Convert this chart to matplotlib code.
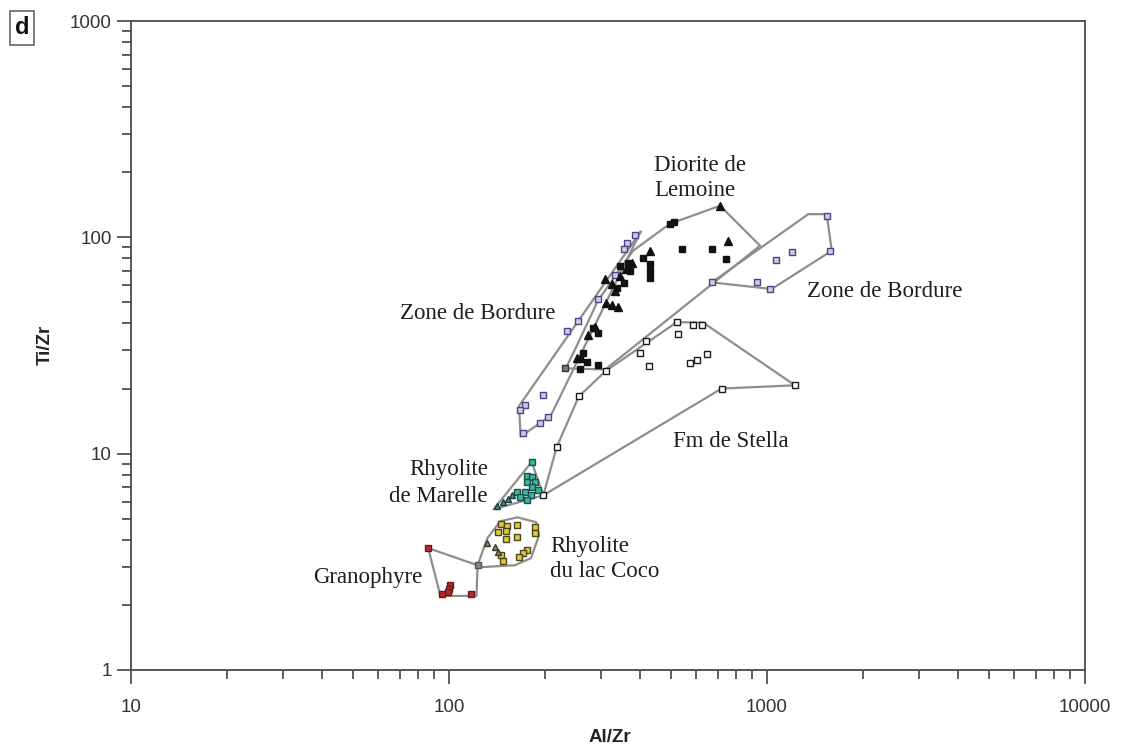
import matplotlib
matplotlib.use('Agg')
import numpy as np
from matplotlib import pyplot as plt
from matplotlib.ticker import FuncFormatter, NullFormatter, LogLocator

# --- Zone de Bordure (ouest), carres violets ---
bord_w_x = [385, 363, 355, 333, 294, 255, 235, 198, 173, 167, 205, 193, 171]
bord_w_y = [102, 94, 88, 67, 52, 41, 37, 18.6, 16.7, 16.0, 14.7, 13.8, 12.4]
bord_w_hull_x = [400, 166, 168, 209]
bord_w_hull_y = [106, 16.6, 12.0, 15.0]

# --- Zone de Bordure (est) ---
bord_e_x = [1541, 1580, 1196, 1067, 928, 1022, 670]
bord_e_y = [126, 86.7, 85.2, 78.8, 61.9, 57.7, 61.9]
bord_e_hull_x = [670, 1349, 1541, 1598, 1035]
bord_e_hull_y = [61.9, 128, 128, 86.7, 57.7]

# --- Diorite de Lemoine ---
dio_sq_x = [495, 510, 539, 670, 743, 429, 429, 429, 407, 371, 338, 355, 345, 366,
            284, 294, 264, 258, 272, 294, 258]
dio_sq_y = [115, 118, 88, 88, 79, 75.5, 70, 65, 80.5, 70, 58.5, 61.7, 74, 76,
            37.9, 36.3, 29.3, 27.5, 26.4, 25.8, 24.5]
dio_tri_x = [712, 754, 429, 310, 326, 345, 360, 376, 333, 312, 326, 340, 274, 253, 288]
dio_tri_y = [140, 96.5, 86.7, 64.4, 61.1, 66.5, 71.6, 76.3, 56.7, 49.9, 48.9, 47.8,
             35.2, 27.8, 38.7]
dio_grey_x = [232]
dio_grey_y = [25.0]
dio_hull_x = [495, 712, 951, 310, 233, 255, 294, 379]
dio_hull_y = [115.5, 140, 91.5, 24.5, 24.8, 32.6, 51, 86.7]

# --- Fm de Stella, carres ouverts ---
stella_x = [520, 526, 587, 623, 1224, 720, 573, 601, 646, 416, 399, 426, 312, 256, 218, 198]
stella_y = [40.5, 35.8, 39.5, 39.5, 20.7, 20.0, 26.2, 27.2, 28.9, 33, 29.3, 25.3,
            24.2, 18.4, 10.7, 6.42]
stella_hull_x = [198, 218, 256, 312, 520, 629, 1224, 720]
stella_hull_y = [6.42, 10.7, 18.4, 24.2, 40.5, 40.4, 20.7, 20.0]

# --- Rhyolite de Marelle ---
mar_sq_x = [182, 176, 182, 186, 176, 182, 190, 164, 173, 167, 181, 176]
mar_sq_y = [9.15, 7.86, 7.77, 7.37, 7.37, 6.99, 6.77, 6.63, 6.63, 6.28, 6.42, 6.09]
mar_tri_x = [148, 153, 158, 142]
mar_tri_y = [5.96, 6.15, 6.42, 5.71]
mar_hull_x = [182, 198, 138]
mar_hull_y = [9.15, 6.42, 5.53]

# --- Rhyolite du lac Coco ---
coco_sq_x = [146, 152, 164, 143, 151, 151, 164, 186, 186, 176, 171, 166, 146, 148]
coco_sq_y = [4.72, 4.62, 4.67, 4.33, 4.38, 4.02, 4.11, 4.57, 4.29, 3.58, 3.47, 3.32,
             3.39, 3.18]
coco_tri_x = [132, 140, 143]
coco_tri_y = [3.86, 3.70, 3.50]
coco_hull_x = [123, 132, 145, 164, 188, 192, 181, 161, 128]
coco_hull_y = [3.05, 4.07, 4.87, 5.08, 4.82, 4.20, 3.29, 3.05, 2.99]

# --- Granophyre ---
gran_x = [86, 101, 100, 99, 95, 117]
gran_y = [3.66, 2.47, 2.36, 2.29, 2.24, 2.24]
gran_grey_x = [123]
gran_grey_y = [3.05]
gran_hull_x = [86, 123, 122, 94]
gran_hull_y = [3.66, 3.05, 2.20, 2.20]

HULL_COLOR = '#8e8e8e'
SERIF = ['Liberation Serif', 'DejaVu Serif']
SANS = ['Liberation Sans', 'DejaVu Sans']


def draw_hull(ax, hx, hy):
    hx = list(hx) + [hx[0]]
    hy = list(hy) + [hy[0]]
    ax.plot(hx, hy, color=HULL_COLOR, lw=1.6, zorder=2, solid_joinstyle='round')


def pts(ax, x, y, marker, face, edge, ms=5, mew=1.0, z=3):
    ax.plot(x, y, marker, ls='none', ms=ms, mfc=face, mec=edge, mew=mew, zorder=z)


fig = plt.figure(figsize=(11.25, 7.52), dpi=100)
ax = fig.add_axes([131 / 1125, 82 / 752, 954 / 1125, 649 / 752])
ax.set_xscale('log')
ax.set_yscale('log')
ax.set_xlim(10, 10000)
ax.set_ylim(1, 1000)

# enveloppes
for hx, hy in [(bord_w_hull_x, bord_w_hull_y), (bord_e_hull_x, bord_e_hull_y),
               (dio_hull_x, dio_hull_y), (stella_hull_x, stella_hull_y),
               (mar_hull_x, mar_hull_y), (coco_hull_x, coco_hull_y),
               (gran_hull_x, gran_hull_y)]:
    draw_hull(ax, hx, hy)

# echantillons
pts(ax, bord_w_x, bord_w_y, 's', '#cfc9e6', '#4a4384')
pts(ax, bord_e_x, bord_e_y, 's', '#cfc9e6', '#4a4384')
pts(ax, stella_x, stella_y, 's', 'white', '#1a1a1a')
pts(ax, dio_sq_x, dio_sq_y, 's', '#111111', '#111111')
pts(ax, dio_tri_x, dio_tri_y, '^', '#111111', '#111111', ms=5.5)
pts(ax, dio_grey_x, dio_grey_y, 's', '#7a7a7a', '#333333')
pts(ax, mar_sq_x, mar_sq_y, 's', '#3cb4a0', '#1d4f48')
pts(ax, mar_tri_x, mar_tri_y, '^', '#4a8a80', '#1d3f3a', ms=4.5)
pts(ax, coco_sq_x, coco_sq_y, 's', '#dccb3c', '#4d4520')
pts(ax, coco_tri_x, coco_tri_y, '^', '#8a8a5a', '#3a3a2a', ms=4.5)
pts(ax, gran_x, gran_y, 's', '#b82a2a', '#6a1a1a')
pts(ax, gran_grey_x, gran_grey_y, 's', '#8a8a8a', '#555555')

# etiquettes des domaines
lab = dict(fontsize=16.5, family=SERIF, color='#1e1e1e', va='baseline')
ax.text(441, 202.9, 'Diorite de', ha='left', **lab)
ax.text(441, 155.6, 'Lemoine', ha='left', **lab)
ax.text(70.2, 42.1, 'Zone de Bordure', ha='left', **lab)
ax.text(1333, 52.8, 'Zone de Bordure', ha='left', **lab)
ax.text(506, 10.7, 'Fm de Stella', ha='left', **lab)
ax.text(132.6, 7.94, 'Rhyolite', ha='right', **lab)
ax.text(132.6, 5.98, 'de Marelle', ha='right', **lab)
ax.text(207.8, 3.50, 'Rhyolite', ha='left', **lab)
ax.text(207.8, 2.69, 'du lac Coco', ha='left', **lab)
ax.text(82.3, 2.52, 'Granophyre', ha='right', **lab)

# axes
ax.xaxis.set_major_locator(LogLocator(base=10))
ax.yaxis.set_major_locator(LogLocator(base=10))
ax.xaxis.set_minor_locator(LogLocator(base=10, subs=np.arange(2, 10)))
ax.yaxis.set_minor_locator(LogLocator(base=10, subs=np.arange(2, 10)))
fmt = FuncFormatter(lambda v, _: f'{v:g}')
ax.xaxis.set_major_formatter(fmt)
ax.yaxis.set_major_formatter(fmt)
ax.xaxis.set_minor_formatter(NullFormatter())
ax.yaxis.set_minor_formatter(NullFormatter())
ax.tick_params(which='both', direction='out', top=False, right=False,
               color='#333333', width=1.1)
ax.tick_params(which='major', length=10, labelsize=13.5, labelcolor='#333333')
ax.tick_params(which='minor', length=6.5)
ax.tick_params(axis='x', which='major', pad=11)
ax.tick_params(axis='y', which='major', pad=4)
for lbl in ax.get_xticklabels() + ax.get_yticklabels():
    lbl.set_family(SANS)
for sp in ax.spines.values():
    sp.set_color('#4a4a4a')
    sp.set_linewidth(1.3)

fig.text(610 / 1125, 1 - 738 / 752, 'Al/Zr', ha='center', va='center',
         fontsize=13.5, fontweight='bold', family=SANS, color='#222222')
fig.text(45 / 1125, 1 - 345 / 752, 'Ti/Zr', ha='center', va='center', rotation=90,
         fontsize=13.5, fontweight='bold', family=SANS, color='#222222')

# lettre du panneau
fig.text(22 / 1125, 1 - 28 / 752, 'd', ha='center', va='center', fontsize=17,
         fontweight='bold', family=SANS, color='#111111',
         bbox=dict(boxstyle='square,pad=0.22', fc='white', ec='#666666', lw=1.2))

fig.savefig('out.png', dpi=100)
